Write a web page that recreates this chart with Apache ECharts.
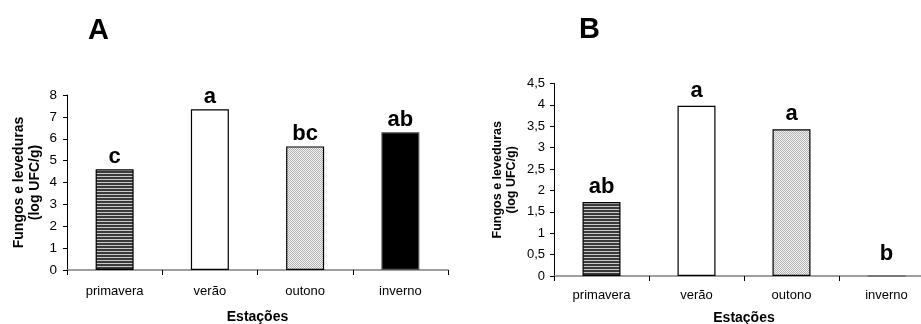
<!DOCTYPE html>
<html><head><meta charset="utf-8">
<script src="https://cdn.jsdelivr.net/npm/echarts@6/dist/echarts.min.js"></script>
<style>html,body{margin:0;padding:0;background:#fff}#c{width:921px;height:324px}</style>
</head><body><div id="c"></div>
<script>
const categories = ['primavera', 'verão', 'outono', 'inverno'];
const valuesA = [4.6, 7.35, 5.65, 6.3];
const valuesB = [1.73, 3.98, 3.43, 0];
const lettersA = ['c', 'a', 'bc', 'ab'];
const lettersB = ['ab', 'a', 'a', 'b'];
const yTicksA = [0, 1, 2, 3, 4, 5, 6, 7, 8];
const yTicksB = [0, 0.5, 1, 1.5, 2, 2.5, 3, 3.5, 4, 4.5];
const panelTitles = ['A', 'B'];
const yTitle = 'Fungos e leveduras\n(log UFC/g)';
const xTitle = 'Estações';

function pattern(w, h, draw) {
  const c = document.createElement('canvas');
  c.width = w; c.height = h;
  const ctx = c.getContext('2d');
  draw(ctx);
  return { image: c, repeat: 'repeat' };
}
const stripes = pattern(4, 3, ctx => {
  ctx.fillStyle = '#c8c8c8'; ctx.fillRect(0, 0, 4, 3);
  ctx.fillStyle = '#3a3a3a'; ctx.fillRect(0, 0, 4, 2);
});
const dots = pattern(2, 2, ctx => {
  ctx.fillStyle = '#f2f2f2'; ctx.fillRect(0, 0, 2, 2);
  ctx.fillStyle = '#b4b4b4'; ctx.fillRect(0, 0, 1, 1); ctx.fillRect(1, 1, 1, 1);
});
const fills = [stripes, '#ffffff', dots, '#000000'];
const borders = ['#000', '#000', '#000', '#555'];

const font = 'Liberation Sans, Arial, sans-serif';

function mkData(vals, letters, dist) {
  return vals.map((v, i) => ({
    value: v,
    itemStyle: { color: fills[i], borderColor: borders[i], borderWidth: 1.2 },
    label: { formatter: letters[i], distance: v === 0 ? 10 : dist }
  }));
}
const fmt = v => String(v).replace('.', ',');

const axisLine = { lineStyle: { color: '#808080', width: 1.5 } };

const chart = echarts.init(document.getElementById('c'), null, { renderer: 'canvas' });
chart.setOption({
  animation: false,
  backgroundColor: '#fff',
  title: [
    { text: panelTitles[0], left: 83, top: 11, textStyle: { fontFamily: font, fontSize: 29, fontWeight: 'bold', color: '#000' } },
    { text: panelTitles[1], left: 574, top: 10, textStyle: { fontFamily: font, fontSize: 29, fontWeight: 'bold', color: '#000' } }
  ],
  grid: [
    { left: 67, right: 473, top: 95, bottom: 54, containLabel: false, outerBoundsMode: 'none' },
    { left: 554, right: -13, top: 83.5, bottom: 48, containLabel: false, outerBoundsMode: 'none' }
  ],
  xAxis: [0, 1].map(i => ({
    type: 'category', gridIndex: i, data: categories,
    axisLine: axisLine,
    axisTick: { show: true, alignWithLabel: false, length: 5, lineStyle: { color: '#000' } },
    axisLabel: { fontFamily: font, fontSize: 13, color: '#000', margin: i === 0 ? 15 : 13 },
    name: xTitle, nameLocation: 'middle', nameGap: i === 0 ? 40 : 35,
    nameTextStyle: { fontFamily: font, fontSize: 14, fontWeight: 'bold', color: '#000' }
  })),
  yAxis: [
    {
      type: 'value', gridIndex: 0, min: 0, max: yTicksA[yTicksA.length - 1], interval: 1,
      axisLine: { show: true, lineStyle: { color: '#000', width: 1 } },
      axisTick: { show: true, length: 4, lineStyle: { color: '#000' } },
      splitLine: { show: false },
      axisLabel: { fontFamily: font, fontSize: 13.5, color: '#000', margin: 10, formatter: fmt },
      name: yTitle, nameLocation: 'middle', nameGap: 24, nameRotate: 90,
      nameTextStyle: { fontFamily: font, fontSize: 14, fontWeight: 'bold', color: '#000', lineHeight: 16 }
    },
    {
      type: 'value', gridIndex: 1, min: 0, max: yTicksB[yTicksB.length - 1], interval: 0.5,
      axisLine: { show: true, lineStyle: { color: '#000', width: 1 } },
      axisTick: { show: true, length: 4, lineStyle: { color: '#000' } },
      splitLine: { show: false },
      axisLabel: { fontFamily: font, fontSize: 13, color: '#000', margin: 9, formatter: fmt },
      name: yTitle, nameLocation: 'middle', nameGap: 35, nameRotate: 90,
      nameTextStyle: { fontFamily: font, fontSize: 12.5, fontWeight: 'bold', color: '#000', lineHeight: 14 }
    }
  ],
  series: [
    {
      type: 'bar', xAxisIndex: 0, yAxisIndex: 0, barWidth: 38,
      data: mkData(valuesA, lettersA, 1),
      label: { show: true, position: 'top', fontFamily: font, fontSize: 22, fontWeight: 'bold', color: '#000' }
    },
    {
      type: 'bar', xAxisIndex: 1, yAxisIndex: 1, barWidth: 38,
      data: mkData(valuesB, lettersB, 4),
      label: { show: true, position: 'top', fontFamily: font, fontSize: 22, fontWeight: 'bold', color: '#000' }
    }
  ]
});
</script>
</body></html>
